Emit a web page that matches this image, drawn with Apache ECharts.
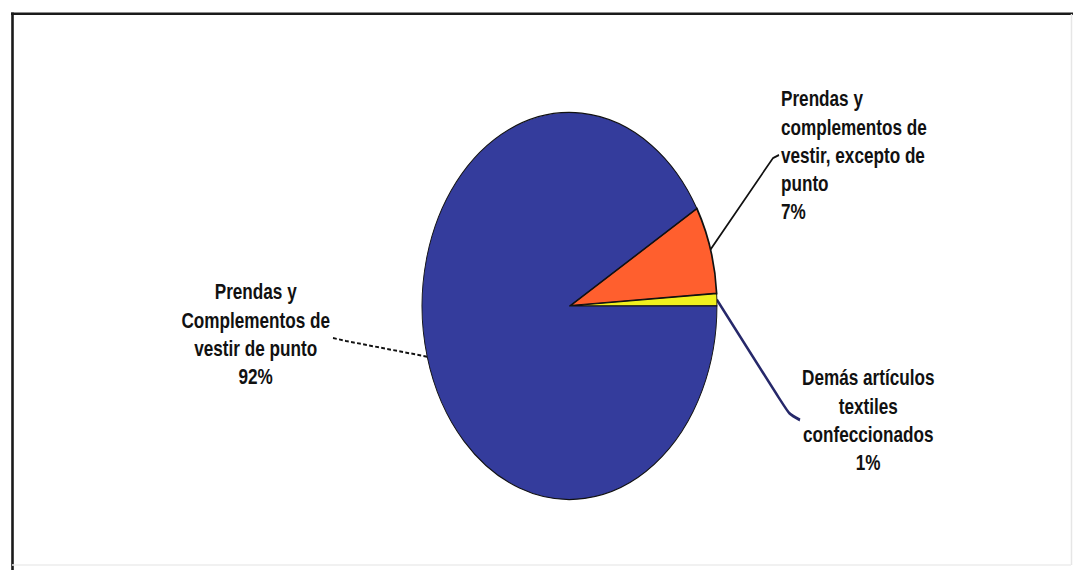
<!DOCTYPE html>
<html>
<head>
<meta charset="utf-8">
<script src="https://cdn.jsdelivr.net/npm/echarts@6/dist/echarts.min.js"></script>
<style>
html,body{margin:0;padding:0;background:#fff;overflow:hidden;width:1073px;height:570px;}
#chart{width:1408px;height:570px;transform:scaleX(0.76207);transform-origin:0 0;}
</style>
</head>
<body>
<div id="chart"></div>
<script>
// ---- data ----
var categories = [
  'Prendas y\ncomplementos de\nvestir, excepto de\npunto',
  'Demás artículos\ntextiles\nconfeccionados',
  'Prendas y\nComplementos de\nvestir de punto'
];
var shares = [7.4, 1.0, 91.6];
var colors = ['#ff5f2e', '#f0f01e', '#343c9c'];

// ---- layout (screen px; x is un-squeezed by S) ----
var S = 1073 / 1408;
var labelPlaces = [
  {x: 781, y: 155, align: 'left',  bx: 773, by: 158, ex: 779, ey: 155},
  {x: 802, y: 420, align: 'left',  bx: 789, by: 414, ex: 800, ey: 420},
  {x: 330, y: 334, align: 'right', bx: 346, by: 341, ex: 333, ey: 338}
];
var lineStyles = [
  {color: '#111', width: 2, type: 'solid'},
  {color: '#26286a', width: 3, type: 'solid'},
  {color: '#111', width: 2, type: [5, 3]}
];
var borderWidths = [2.2, 1.2, 1.2];

var chart = echarts.init(document.getElementById('chart'), null, {renderer: 'svg'});
var W = 1408;

var data = categories.map(function (n, i) {
  return {
    name: n,
    value: shares[i],
    itemStyle: {color: colors[i], borderColor: '#111', borderWidth: borderWidths[i]},
    labelLine: {lineStyle: lineStyles[i], smooth: i === 1 ? 0.25 : false}
  };
});

var txt = {fontFamily: 'Liberation Sans, Arial, sans-serif', fontSize: 22.5, fontWeight: 'bold', color: '#111', lineHeight: 28.3};

chart.setOption({
  backgroundColor: '#fff',
  animation: false,
  graphic: [
    {type: 'line', shape: {x1: 11 / S, y1: 13.8, x2: 1073 / S, y2: 13.8}, style: {stroke: '#1a1a1a', lineWidth: 2.6}},
    {type: 'line', shape: {x1: 12.5 / S, y1: 12.5, x2: 12.5 / S, y2: 570}, style: {stroke: '#1a1a1a', lineWidth: 2.6 / S}},
    {type: 'line', shape: {x1: 1071.5 / S, y1: 14, x2: 1071.5 / S, y2: 565}, style: {stroke: '#e6e6e6', lineWidth: 1.5 / S}},
    {type: 'line', shape: {x1: 12 / S, y1: 565, x2: 1071 / S, y2: 565}, style: {stroke: '#ececec', lineWidth: 1.5}}
  ],
  series: [{
    type: 'pie',
    center: [569.5 / S, 306],
    radius: 193.5,
    startAngle: 30.3,
    clockwise: true,
    avoidLabelOverlap: false,
    data: data,
    label: {
      show: true,
      position: 'outside',
      formatter: function (p) {
        var lines = p.name.split('\n');
        lines.push(Math.round(p.percent) + '%');
        return lines.map(function (l) { return '{' + (p.dataIndex === 0 ? 'l' : 'c') + '|' + l + '}'; }).join('\n');
      },
      rich: {
        l: Object.assign({align: 'left'}, txt),
        c: Object.assign({align: 'center'}, txt)
      }
    },
    labelLine: {show: true, length: 20, length2: 10},
    labelLayout: function (p) {
      var L = labelPlaces[p.dataIndex];
      var out = {x: L.x / S, y: L.y, align: L.align, verticalAlign: 'middle'};
      if (p.labelLinePoints && p.labelLinePoints[0]) {
        out.labelLinePoints = [p.labelLinePoints[0], [L.bx / S, L.by], [L.ex / S, L.ey]];
      }
      return out;
    },
    emphasis: {disabled: true}
  }]
});
</script>
</body>
</html>
